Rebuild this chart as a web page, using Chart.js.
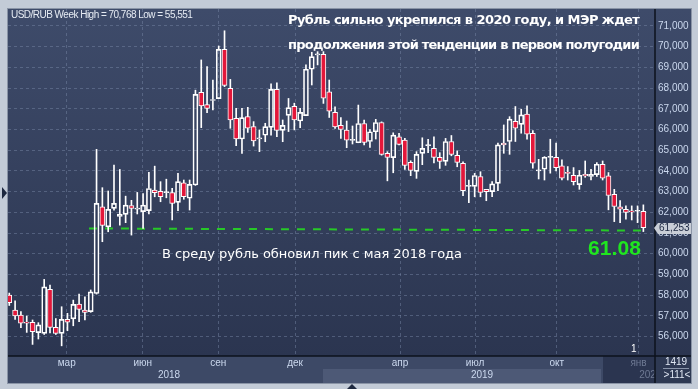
<!DOCTYPE html>
<html>
<head>
<meta charset="utf-8">
<script src="https://cdn.jsdelivr.net/npm/chart.js@4.4.0/dist/chart.umd.min.js"></script>
<style>
html, body { margin: 0; padding: 0; background: #c3cbd7; }
#wrap { width: 698px; height: 389px; }
</style>
</head>
<body>
<div id="wrap"><canvas id="rubChart" width="698" height="389"></canvas></div>
<script>
// USD/RUB, недельные свечи (дек 2017 - янв 2020)
const openP = [58.0, 57.28, 57.04, 56.7, 56.69, 56.19, 56.15, 58.28, 56.44, 56.15,
    56.83, 56.85, 57.57, 57.28, 57.2, 58.08, 62.27, 61.3, 62.19, 61.8,
    61.9, 62.33, 62.15, 62.03, 62.08, 63.07, 63.01, 62.95, 62.95, 62.48,
    63.43, 62.68, 63.32, 67.8, 67.2, 67.4, 67.49, 69.87, 67.99, 66.54,
    65.54, 66.62, 66.14, 65.55, 65.72, 66.1, 67.94, 65.96, 66.68, 67.12,
    66.41, 66.67, 68.91, 69.6, 69.63, 67.82, 66.83, 66.2, 65.97, 65.47,
    65.36, 66.29, 65.42, 65.89, 66.34, 64.85, 64.64, 65.65, 65.49, 64.41,
    63.98, 64.85, 65.22, 65.09, 64.65, 64.46, 65.42, 64.75, 64.36, 63.25,
    63.25, 63.73, 63.11, 63.0, 63.4, 65.34, 65.42, 66.4, 66.25, 66.74,
    65.82, 64.0, 64.08, 64.65, 64.66, 64.24, 63.9, 63.79, 63.34, 63.84,
    63.73, 63.82, 64.32, 63.76, 62.87, 62.26, 62.15, 62.05, 62.05, 62.05];
const highP = [58.1, 57.72, 57.2, 56.99, 56.8, 56.67, 58.76, 58.49, 56.87, 57.44,
    57.12, 57.76, 58.05, 57.92, 58.25, 65.04, 63.19, 63.03, 64.28, 64.07,
    62.78, 62.58, 62.96, 62.91, 63.93, 64.23, 63.48, 63.6, 63.16, 63.88,
    63.56, 63.56, 67.9, 69.36, 69.04, 68.39, 70.03, 70.768, 68.42, 67.02,
    67.02, 67.07, 66.38, 65.98, 66.3, 68.2, 68.26, 66.46, 67.5, 67.27,
    67.02, 69.12, 69.73, 69.76, 69.76, 68.39, 67.1, 66.58, 66.41, 66.17,
    67.18, 66.45, 66.0, 66.49, 66.37, 64.93, 65.84, 65.81, 65.57, 64.49,
    64.93, 65.6, 65.52, 65.65, 64.88, 65.57, 65.71, 64.97, 64.44, 63.56,
    63.88, 63.96, 63.11, 63.48, 65.34, 66.22, 66.62, 67.11, 66.98, 67.14,
    65.95, 64.56, 64.69, 65.53, 65.34, 64.53, 64.21, 64.16, 64.02, 64.48,
    64.08, 64.4, 64.48, 63.92, 63.11, 62.57, 62.31, 62.31, 62.31, 62.36];
const lowP = [57.5, 56.83, 56.43, 56.2, 55.62, 55.88, 56.1, 56.18, 56.1, 55.551,
    56.28, 56.52, 56.72, 56.8, 57.17, 58.05, 60.58, 61.06, 62.1, 61.38,
    61.5, 60.9, 61.92, 61.22, 61.92, 62.75, 62.51, 62.7, 61.63, 62.08,
    62.63, 62.11, 63.3, 66.09, 66.81, 66.94, 67.49, 68.07, 66.06, 65.22,
    64.85, 65.86, 65.2, 64.93, 65.41, 65.73, 65.65, 65.41, 65.9, 65.98,
    66.09, 66.67, 68.15, 69.12, 67.26, 66.58, 66.05, 65.57, 65.12, 65.3,
    65.36, 65.25, 65.13, 65.54, 64.76, 63.52, 63.91, 65.25, 64.07, 63.77,
    63.64, 64.3, 64.88, 64.39, 64.12, 64.27, 64.73, 64.2, 62.8, 62.46,
    62.75, 62.75, 62.56, 62.76, 63.05, 64.85, 64.8, 65.42, 65.82, 65.53,
    64.13, 63.61, 63.56, 63.89, 64.0, 63.56, 63.56, 63.32, 63.11, 63.69,
    63.56, 63.73, 63.56, 62.12, 61.55, 61.5, 61.67, 61.63, 61.5, 61.07];
const closeP = [57.64, 56.99, 56.64, 56.65, 56.23, 56.56, 58.4, 56.44, 56.15, 56.83,
    56.69, 57.55, 57.31, 57.17, 58.16, 62.43, 61.37, 62.14, 62.43, 61.92,
    62.35, 62.19, 62.2, 62.35, 63.15, 62.95, 62.75, 62.97, 62.43, 63.48,
    62.76, 63.35, 67.7, 67.14, 67.02, 67.45, 69.87, 68.13, 66.46, 65.54,
    66.57, 66.07, 65.45, 65.6, 66.14, 67.94, 65.96, 66.2, 67.06, 66.46,
    66.83, 68.91, 69.52, 69.65, 67.51, 66.89, 66.13, 66.0, 65.49, 65.52,
    66.29, 65.38, 65.89, 66.34, 64.8, 64.65, 65.73, 65.28, 64.27, 64.02,
    64.8, 65.09, 65.25, 64.65, 64.46, 65.42, 64.8, 64.41, 63.04, 63.3,
    63.78, 62.96, 63.0, 63.37, 65.26, 65.26, 66.5, 66.06, 66.71, 65.77,
    64.37, 64.02, 64.66, 64.68, 64.16, 63.65, 63.88, 63.48, 63.79, 63.76,
    63.84, 64.32, 63.65, 62.81, 62.28, 62.15, 62.0, 62.02, 62.06, 61.253];

// подписи осей
const monthNames = ['мар', 'июн', 'сен', 'дек', 'апр', 'июл', 'окт', 'янв'];
const monthAt = [9.87, 22.94, 35.93, 49.12, 67.17, 80.06, 94.11, 108.17];
const yearNames = ['2018', '2019', '2020'];
const yearAt = [27.46, 81.27, 110.2];
const priceTicks = [56, 57, 58, 59, 60, 61, 62, 63, 64, 65, 66, 67, 68, 69, 70, 71];

// уровень поддержки (зелёная пунктирная линия)
const supportX = [13.7, 109.3];
const supportY = [61.22, 61.12];
const supportLabel = '61.08';

/* ------------------------------------------------------------------ */

const RED = '#e3173a';
const weeks = openP.map(function (v, i) { return i; });

const bodies = weeks.map(function (i) {
    return { x: i, y: [openP[i], closeP[i]] };
});
const wickUp = weeks.map(function (i) {
    return { x: i, y: [Math.max(openP[i], closeP[i]), highP[i]] };
});
const wickDown = weeks.map(function (i) {
    return { x: i, y: [lowP[i], Math.min(openP[i], closeP[i])] };
});
const bodyColors = weeks.map(function (i) {
    return closeP[i] < openP[i] ? RED : 'rgba(0,0,0,0)';
});

function fmt(v) {
    return v.toFixed(3).replace('.', ',');
}

// текст, растянутый до нужной ширины
function fitText(ctx, text, x, y, width) {
    ctx.letterSpacing = '0px';
    const w = ctx.measureText(text).width;
    const extra = (width - w) / (text.length - 1);
    ctx.letterSpacing = extra.toFixed(2) + 'px';
    ctx.fillText(text, x, y);
    ctx.letterSpacing = '0px';
}

const framePlugin = {
    id: 'frame',
    beforeDraw: function (chart) {
        const ctx = chart.ctx;
        const a = chart.chartArea;
        ctx.save();
        ctx.fillStyle = '#c3cbd7';
        ctx.fillRect(0, 0, chart.width, chart.height);
        const g = ctx.createLinearGradient(0, a.top, 0, a.bottom);
        g.addColorStop(0, '#3e4b6a');
        g.addColorStop(1, '#2b3550');
        ctx.fillStyle = g;
        ctx.fillRect(a.left, a.top, 691 - a.left, a.bottom - a.top);
        // нижняя панель
        ctx.fillStyle = '#3d4966';
        ctx.fillRect(a.left, a.bottom, a.right - a.left, 27);
        ctx.fillStyle = '#4d5976';
        ctx.fillRect(323, a.bottom + 13, 278, 14);
        ctx.fillStyle = '#2b3550';
        ctx.fillRect(603, a.bottom, a.right - 603, 27);
        ctx.restore();
    },
    afterDraw: function (chart) {
        const ctx = chart.ctx;
        const a = chart.chartArea;
        const yS = chart.scales.y;
        ctx.save();
        // правый нижний угол
        ctx.fillStyle = '#2e3953';
        ctx.fillRect(a.right, a.bottom, 691 - a.right, 27);
        ctx.fillStyle = '#dfe6f2';
        ctx.font = '10px "Liberation Sans"';
        ctx.textAlign = 'center';
        ctx.textBaseline = 'middle';
        ctx.fillText('1419', 676, 362);
        ctx.fillText('>111<', 677, 375);
        ctx.strokeStyle = '#8994a9';
        ctx.lineWidth = 1;
        ctx.beginPath();
        ctx.moveTo(663, 368.5);
        ctx.lineTo(689, 368.5);
        ctx.stroke();

        // линии рамки
        ctx.strokeStyle = '#0d121c';
        ctx.lineWidth = 1.5;
        ctx.beginPath();
        ctx.moveTo(a.left, a.bottom);
        ctx.lineTo(691, a.bottom);
        ctx.moveTo(a.right, a.top);
        ctx.lineTo(a.right, 383);
        ctx.stroke();
        ctx.strokeStyle = '#8a94a6';
        ctx.lineWidth = 1;
        ctx.strokeRect(a.left - 0.5, a.top - 0.5, 691 - a.left + 1, 383 - a.top + 1);

        // метка последней цены
        const last = closeP[closeP.length - 1];
        const py = Math.round(yS.getPixelForValue(last));
        ctx.fillStyle = '#c9ced7';
        ctx.beginPath();
        ctx.moveTo(654, py);
        ctx.lineTo(658, py - 5);
        ctx.lineTo(691, py - 5);
        ctx.lineTo(691, py + 6);
        ctx.lineTo(658, py + 6);
        ctx.closePath();
        ctx.fill();
        ctx.fillStyle = '#1c2741';
        ctx.font = '10px "Liberation Sans"';
        ctx.textAlign = 'left';
        ctx.fillText(fmt(last), 659, py + 0.5);

        // треугольники на рамке
        ctx.fillStyle = '#1e2940';
        ctx.beginPath();
        ctx.moveTo(2, 187); ctx.lineTo(7, 193); ctx.lineTo(2, 199); ctx.closePath();
        ctx.fill();
        ctx.beginPath();
        ctx.moveTo(347, 389); ctx.lineTo(352, 384); ctx.lineTo(357, 389); ctx.closePath();
        ctx.fill();

        // подписи
        ctx.textAlign = 'left';
        ctx.textBaseline = 'middle';
        ctx.fillStyle = '#e6ebf3';
        ctx.font = '10px "Liberation Sans"';
        fitText(ctx, 'USD/RUB Week High = 70,768 Low = 55,551', 11, 15, 182);

        ctx.fillStyle = '#ffffff';
        ctx.font = 'bold 13px "DejaVu Sans"';
        fitText(ctx, 'Рубль сильно укрепился в 2020 году, и МЭР ждет', 288, 21, 352);
        fitText(ctx, 'продолжения этой тенденции в первом полугодии', 288, 46, 352);

        ctx.font = '13px "DejaVu Sans"';
        fitText(ctx, 'В среду рубль обновил пик с мая 2018 года', 162, 255, 300);

        ctx.fillStyle = '#1fe61f';
        ctx.font = 'bold 21px "Liberation Sans"';
        fitText(ctx, supportLabel, 588, 249, 53);

        ctx.fillStyle = '#ffffff';
        ctx.font = '10px "Liberation Sans"';
        ctx.fillText('1', 631, 349);
        ctx.restore();
    }
};

const ctx = document.getElementById('rubChart').getContext('2d');

const rubChart = new Chart(ctx, {
    type: 'bar',
    data: {
        datasets: [
            {
                type: 'line',
                data: supportX.map(function (x, i) { return { x: x, y: supportY[i] }; }),
                borderColor: '#27c927',
                borderWidth: 2,
                borderDash: [8, 8],
                pointRadius: 0,
                fill: false,
                order: 4
            },
            {
                data: wickUp,
                backgroundColor: '#ffffff',
                barThickness: 1,
                order: 3
            },
            {
                data: wickDown,
                backgroundColor: '#ffffff',
                barThickness: 1,
                order: 3
            },
            {
                data: bodies,
                backgroundColor: bodyColors,
                borderColor: '#ffffff',
                borderWidth: 1,
                borderSkipped: false,
                barThickness: 5,
                minBarLength: 1,
                order: 1
            }
        ]
    },
    options: {
        responsive: false,
        animation: false,
        events: [],
        layout: {
            autoPadding: false,
            padding: { left: 8, top: 9, right: 7, bottom: 6 }
        },
        datasets: {
            bar: { grouped: false }
        },
        plugins: {
            legend: { display: false },
            tooltip: { enabled: false }
        },
        scales: {
            x: {
                type: 'linear',
                position: 'bottom',
                weight: 0,
                min: -0.22,
                max: 111.0,
                offset: false,
                afterBuildTicks: function (scale) {
                    scale.ticks = monthAt.map(function (v) { return { value: v }; });
                },
                afterFit: function (scale) { scale.height = 13; },
                grid: {
                    display: true,
                    drawTicks: false,
                    offset: false,
                    color: 'rgba(125,140,170,0.45)',
                    lineWidth: 1
                },
                border: { display: false, dash: [3, 3] },
                ticks: {
                    autoSkip: false,
                    maxRotation: 0,
                    padding: 1,
                    font: { family: 'Liberation Sans', size: 10 },
                    color: function (c) { return c.index === 7 ? '#6e7993' : '#cbd8ee'; },
                    callback: function (value, index) { return monthNames[index]; }
                }
            },
            xYear: {
                type: 'linear',
                position: 'bottom',
                weight: 1,
                min: -0.22,
                max: 111.0,
                offset: false,
                afterBuildTicks: function (scale) {
                    scale.ticks = yearAt.map(function (v) { return { value: v }; });
                },
                afterFit: function (scale) { scale.height = 14; },
                grid: { display: false, drawTicks: false, offset: false },
                border: { display: false },
                ticks: {
                    autoSkip: false,
                    maxRotation: 0,
                    padding: 0,
                    font: { family: 'Liberation Sans', size: 10 },
                    color: function (c) { return c.index === 2 ? '#6e7993' : '#cbd8ee'; },
                    callback: function (value, index) { return yearNames[index]; }
                }
            },
            y: {
                type: 'linear',
                position: 'right',
                min: 55.06,
                max: 71.82,
                afterBuildTicks: function (scale) {
                    scale.ticks = priceTicks.map(function (v) { return { value: v }; });
                },
                afterFit: function (scale) { scale.width = 36; },
                grid: {
                    drawTicks: false,
                    color: 'rgba(125,140,170,0.45)',
                    lineWidth: 1
                },
                border: { display: false, dash: [3, 3] },
                ticks: {
                    padding: 3,
                    font: { family: 'Liberation Sans', size: 10 },
                    color: '#cbd8ee',
                    callback: function (value) { return fmt(value); }
                }
            }
        }
    },
    plugins: [framePlugin]
});
</script>
</body>
</html>
